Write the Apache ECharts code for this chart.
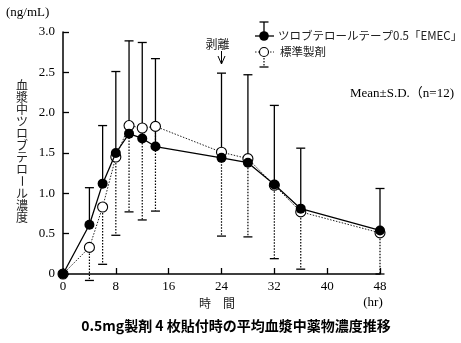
<!DOCTYPE html>
<html><head><meta charset="utf-8">
<script src="https://cdn.jsdelivr.net/npm/echarts@6/dist/echarts.min.js"></script>
<style>html,body{margin:0;padding:0;background:#fff}#c{width:461px;height:343px}</style>
</head><body><div id="c"></div>
<script>
// ---- data ----
const times = [0, 4, 6, 8, 10, 12, 14, 24, 28, 32, 36, 48];
const emecMean = [0, 0.61, 1.12, 1.50, 1.74, 1.68, 1.58, 1.44, 1.38, 1.11, 0.81, 0.54];
const emecSD   = [0, 0.46, 0.72, 1.01, 1.15, 1.19, 1.09, 1.05, 1.09, 0.98, 0.75, 0.52];
const stdMean  = [0, 0.33, 0.83, 1.45, 1.84, 1.81, 1.83, 1.51, 1.43, 1.10, 0.77, 0.51];
const stdSD    = [0, 0.41, 0.71, 0.97, 1.07, 1.14, 1.05, 1.04, 0.97, 0.91, 0.71, 0.51];
const xTicks = [0, 8, 16, 24, 32, 40, 48];
const yTicks = [0, 0.5, 1.0, 1.5, 2.0, 2.5, 3.0];
const seriesNames = ['ツロブテロールテープ0.5「EMEC」', '標準製剤'];
const yName = '血漿中ツロブテロール濃度';
const peelTime = 24;

const SERIF = '"Liberation Serif", "Noto Sans CJK JP", serif';
const CJK = '"Noto Sans CJK JP", sans-serif';

const chart = echarts.init(document.getElementById('c'), null, {renderer: 'canvas'});

function errSeries(means, sds, dir, dashed, z) {
  const data = [];
  times.forEach((t, i) => { if (sds[i] > 0) data.push([t, means[i], means[i] + dir * sds[i]]); });
  return {
    type: 'custom', data: data, z: z, clip: false, silent: true,
    encode: {x: 0, y: [1, 2]},
    renderItem: function (params, api) {
      const a = api.coord([api.value(0), api.value(1)]);
      const b = api.coord([api.value(0), api.value(2)]);
      return {type: 'group', children: [
        {type: 'line', shape: {x1: a[0], y1: a[1], x2: b[0], y2: b[1]},
         style: {stroke: '#000', lineWidth: dashed ? 1.2 : 1.3, lineDash: dashed ? [1.5, 1.5] : null}},
        {type: 'line', shape: {x1: b[0] - 4.5, y1: b[1], x2: b[0] + 4.5, y2: b[1]},
         style: {stroke: '#000', lineWidth: 1.3}}
      ]};
    }
  };
}

const option = {
  animation: false,
  backgroundColor: '#fff',
  grid: {left: 63, right: 81, top: 32, bottom: 69, containLabel: false},
  xAxis: {
    type: 'value', min: 0, max: 48, interval: 8,
    axisLine: {lineStyle: {color: '#000', width: 1.5}},
    axisTick: {inside: true, length: 6, lineStyle: {color: '#000', width: 1.3}},
    axisLabel: {color: '#000', fontFamily: SERIF, fontSize: 13, margin: 6,
      formatter: v => xTicks.indexOf(v) >= 0 ? String(v) : ''},
    splitLine: {show: false}
  },
  yAxis: {
    type: 'value', min: 0, max: 3, interval: 0.5,
    axisLine: {show: true, lineStyle: {color: '#000', width: 1.5}},
    axisTick: {show: true, inside: true, length: 6, lineStyle: {color: '#000', width: 1.3}},
    axisLabel: {color: '#000', fontFamily: SERIF, fontSize: 13, margin: 8,
      formatter: v => v === 0 ? '0' : (yTicks.indexOf(v) >= 0 ? v.toFixed(1) : '')},
    splitLine: {show: false}
  },
  series: [
    errSeries(stdMean, stdSD, -1, true, 1),
    errSeries(emecMean, emecSD, 1, false, 1),
    {
      name: seriesNames[1], type: 'line', z: 3,
      data: times.map((t, i) => [t, stdMean[i]]),
      symbol: 'circle', symbolSize: 10,
      itemStyle: {color: '#fff', borderColor: '#000', borderWidth: 1.1},
      lineStyle: {color: '#222', width: 1, type: [1.5, 1.5]}
    },
    {
      name: seriesNames[0], type: 'line', z: 4,
      data: times.map((t, i) => [t, emecMean[i]]),
      symbol: 'circle', symbolSize: 10,
      itemStyle: {color: '#000', borderColor: '#000', borderWidth: 0},
      lineStyle: {color: '#000', width: 1.3}
    }
  ]
};
chart.setOption(option);

// annotations
const p = chart.convertToPixel({gridIndex: 0}, [peelTime, 3.0]);
const ax = p[0];
const yChars = yName.split('');
const yNameEls = yChars.map((ch, i) => ({
  type: 'text', x: 22, y: 85 + i * 12, rotation: ch === 'ー' ? -Math.PI / 2 : 0,
  style: {text: ch, fontFamily: CJK, fontSize: 12, fill: '#222', align: 'center', verticalAlign: 'middle'}
}));

chart.setOption({
  graphic: [
    {type: 'text', x: 6, y: 13, style: {text: '(ng/mL)', fontFamily: SERIF, fontSize: 13, fill: '#000', verticalAlign: 'middle'}},
    ...yNameEls,
    {type: 'text', x: 217, y: 303, style: {text: '時　間', fontFamily: CJK, fontSize: 12, fill: '#222', align: 'center', verticalAlign: 'middle'}},
    {type: 'text', x: 373, y: 303, style: {text: '(hr)', fontFamily: SERIF, fontSize: 13, fill: '#000', align: 'center', verticalAlign: 'middle'}},
    {type: 'text', x: 236, y: 326, style: {text: '0.5mg製剤 4 枚貼付時の平均血漿中薬物濃度推移', fontFamily: CJK, fontWeight: 'bold', fontSize: 14, fill: '#000', align: 'center', verticalAlign: 'middle'}},
    // peel annotation
    {type: 'text', x: ax - 4, y: 44, style: {text: '剥離', fontFamily: CJK, fontSize: 12, fill: '#222', align: 'center', verticalAlign: 'middle'}},
    {type: 'line', shape: {x1: ax, y1: 51, x2: ax, y2: 64}, style: {stroke: '#000', lineWidth: 1}},
    {type: 'polyline', shape: {points: [[ax - 3.5, 56], [ax, 64], [ax + 3.5, 56]]}, style: {stroke: '#000', lineWidth: 1, fill: null}},
    // legend: EMEC
    {type: 'line', shape: {x1: 259.5, y1: 22, x2: 268.5, y2: 22}, style: {stroke: '#000', lineWidth: 1.3}},
    {type: 'line', shape: {x1: 264, y1: 22, x2: 264, y2: 36}, style: {stroke: '#000', lineWidth: 1.3}},
    {type: 'line', shape: {x1: 255, y1: 36, x2: 274, y2: 36}, style: {stroke: '#000', lineWidth: 1.3}},
    {type: 'circle', shape: {cx: 264, cy: 36, r: 4.8}, style: {fill: '#000'}},
    {type: 'text', x: 278, y: 36, style: {text: seriesNames[0], fontFamily: CJK, fontSize: 11.5, fill: '#222', verticalAlign: 'middle'}},
    // legend: standard
    {type: 'line', shape: {x1: 255, y1: 52, x2: 274, y2: 52}, style: {stroke: '#222', lineWidth: 1, lineDash: [1.5, 1.5]}},
    {type: 'line', shape: {x1: 264, y1: 52, x2: 264, y2: 67}, style: {stroke: '#000', lineWidth: 1.2, lineDash: [1.5, 1.5]}},
    {type: 'line', shape: {x1: 259.5, y1: 67, x2: 268.5, y2: 67}, style: {stroke: '#000', lineWidth: 1.3}},
    {type: 'circle', shape: {cx: 264, cy: 52, r: 4.5}, style: {fill: '#fff', stroke: '#000', lineWidth: 1.1}},
    {type: 'text', x: 280, y: 52, style: {text: seriesNames[1], fontFamily: CJK, fontSize: 11.5, fill: '#222', verticalAlign: 'middle'}},
    // stats note
    {type: 'text', x: 350, y: 94, style: {text: 'Mean±S.D.（n=12)', fontFamily: SERIF, fontSize: 13, fill: '#000', verticalAlign: 'middle'}}
  ]
});
</script></body></html>
